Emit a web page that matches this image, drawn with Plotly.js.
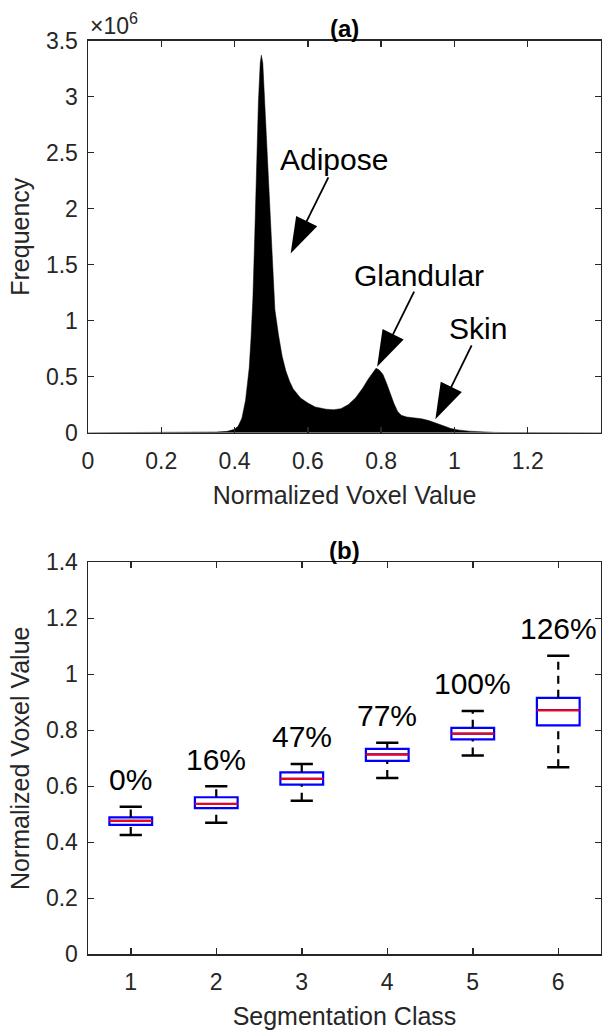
<!DOCTYPE html>
<html><head><meta charset="utf-8">
<script src="https://cdn.plot.ly/plotly-3.0.1.min.js"></script>
<style>html,body{margin:0;padding:0;background:#fff}</style>
</head><body><div id="chart" style="width:602px;height:1032px"></div>
<script>
// ---- (a) histogram of normalized voxel values ----
const histX = [0, 0.30, 0.35, 0.38, 0.40, 0.41, 0.42, 0.43, 0.44, 0.445, 0.45, 0.455, 0.46, 0.465, 0.47, 0.473, 0.477, 0.48, 0.485, 0.49, 0.495, 0.50, 0.505, 0.51, 0.52, 0.53, 0.54, 0.55, 0.56, 0.58, 0.60, 0.62, 0.65, 0.67, 0.69, 0.71, 0.73, 0.75, 0.765, 0.775, 0.786, 0.795, 0.805, 0.815, 0.825, 0.835, 0.845, 0.855, 0.87, 0.89, 0.91, 0.93, 0.95, 0.97, 0.99, 1.01, 1.04, 1.07, 1.11, 1.15, 1.2, 1.4];
const histFreqMillions = [0, 0.002, 0.006, 0.012, 0.03, 0.06, 0.13, 0.29, 0.58, 0.85, 1.2, 1.75, 2.35, 2.95, 3.3, 3.37, 3.3, 3.1, 2.7, 2.4, 2.05, 1.72, 1.42, 1.1, 0.87, 0.68, 0.55, 0.46, 0.39, 0.31, 0.265, 0.23, 0.21, 0.205, 0.215, 0.25, 0.31, 0.40, 0.48, 0.53, 0.575, 0.56, 0.52, 0.44, 0.34, 0.26, 0.19, 0.155, 0.14, 0.133, 0.125, 0.108, 0.088, 0.062, 0.038, 0.025, 0.014, 0.008, 0.003, 0.001, 0, 0];
const peakLabels = ['Adipose', 'Glandular', 'Skin'];

// ---- (b) box plot per segmentation class ----
const classes = [1, 2, 3, 4, 5, 6];
const lowerWhisker = [0.426, 0.470, 0.548, 0.630, 0.710, 0.668];
const q1 = [0.462, 0.522, 0.606, 0.691, 0.768, 0.818];
const medians = [0.477, 0.537, 0.627, 0.714, 0.788, 0.872];
const q3 = [0.489, 0.561, 0.650, 0.734, 0.809, 0.916];
const upperWhisker = [0.527, 0.600, 0.680, 0.756, 0.869, 1.066];
const pctLabels = ['0%', '16%', '47%', '77%', '100%', '126%'];

const FONT = 'Liberation Sans, Arial, Helvetica, sans-serif';
const AXC = '#262626';
const BOXW = 0.5, CAPW = 0.13;

const whiskX = [], whiskY = [], capX = [], capY = [], medX = [], medY = [];
classes.forEach((c, i) => {
  whiskX.push(c, c, null, c, c, null);
  whiskY.push(q3[i], upperWhisker[i], null, lowerWhisker[i], q1[i], null);
  capX.push(c - CAPW, c + CAPW, null, c - CAPW, c + CAPW, null);
  capY.push(upperWhisker[i], upperWhisker[i], null, lowerWhisker[i], lowerWhisker[i], null);
  medX.push(c - BOXW / 2, c + BOXW / 2, null);
  medY.push(medians[i], medians[i], null);
});

// annotation arrows (tail -> head) for panel (a)
const arrowTails = [[0.656, 2.28], [0.890, 1.26], [1.047, 0.78]];
const arrowHeads = [[0.553, 1.60], [0.789, 0.59], [0.948, 0.12]];
const arX = [], arY = [], arSize = [];
arrowTails.forEach((t, i) => {
  arX.push(t[0], arrowHeads[i][0], null);
  arY.push(t[1], arrowHeads[i][1], null);
  arSize.push(0, 38, 0);
});

const traces = [
  {type: 'scatter', x: histX, y: histFreqMillions, mode: 'lines', fill: 'tozeroy',
   fillcolor: '#000000', line: {color: '#000000', width: 0.5}, xaxis: 'x', yaxis: 'y', hoverinfo: 'x+y'},
  {type: 'scatter', x: arX, y: arY, mode: 'lines+markers', connectgaps: false,
   line: {color: '#000000', width: 1.8},
   marker: {symbol: 'arrow', size: arSize, angleref: 'previous', color: '#000000', opacity: 1, line: {width: 0}},
   xaxis: 'x', yaxis: 'y', hoverinfo: 'skip'},
  {type: 'box', x: classes, q1: q1, median: medians, q3: q3, lowerfence: q1, upperfence: q3,
   width: BOXW, whiskerwidth: 0, boxpoints: false, fillcolor: 'rgba(0,0,0,0)',
   line: {color: '#0000FF', width: 2.2}, xaxis: 'x2', yaxis: 'y2'},
  {type: 'scatter', x: whiskX, y: whiskY, mode: 'lines', line: {color: '#000000', width: 2.2, dash: '8px,6px'},
   xaxis: 'x2', yaxis: 'y2', hoverinfo: 'skip'},
  {type: 'scatter', x: capX, y: capY, mode: 'lines', line: {color: '#000000', width: 2.5},
   xaxis: 'x2', yaxis: 'y2', hoverinfo: 'skip'},
  {type: 'scatter', x: medX, y: medY, mode: 'lines', line: {color: '#FF0000', width: 2},
   xaxis: 'x2', yaxis: 'y2', hoverinfo: 'skip'}
];

const ax = {
  showline: true, linecolor: AXC, linewidth: 1.5, mirror: 'ticks',
  ticks: 'inside', ticklen: 6, tickwidth: 1.5, tickcolor: AXC,
  showgrid: false, zeroline: false,
  tickfont: {family: FONT, size: 23, color: AXC}
};
const titleFont = {family: FONT, size: 25, color: AXC};

const annotations = [
  {xref: 'paper', yref: 'paper', x: 0.5, y: 1 - 28 / 1032, yanchor: 'middle', showarrow: false,
   text: '<b>(a)</b>', font: {family: FONT, size: 24, color: '#000'}},
  {xref: 'paper', yref: 'paper', x: 0.5, y: 1 - 550 / 1032, yanchor: 'middle', showarrow: false,
   text: '<b>(b)</b>', font: {family: FONT, size: 24, color: '#000'}},
  {xref: 'paper', yref: 'paper', x: 0, xanchor: 'left', y: 0.9606, yanchor: 'bottom', showarrow: false,
   text: '×10<sup>6</sup>', font: {family: FONT, size: 23, color: AXC}}
];
const labelPos = [[0.670, 2.44], [0.902, 1.40], [1.065, 0.93]];
peakLabels.forEach((t, i) => annotations.push({xref: 'x', yref: 'y', x: labelPos[i][0], y: labelPos[i][1],
  showarrow: false, text: t, font: {family: FONT, size: 30, color: '#000'}}));
classes.forEach((c, i) => annotations.push({xref: 'x2', yref: 'y2', x: c, y: upperWhisker[i],
  yanchor: 'middle', yshift: 27, showarrow: false, text: pctLabels[i], font: {family: FONT, size: 30, color: '#000'}}));

const layout = {
  width: 602, height: 1032,
  margin: {l: 88, r: 1, t: 0, b: 0},
  paper_bgcolor: '#fff', plot_bgcolor: '#fff', showlegend: false,
  xaxis: Object.assign({}, ax, {domain: [0, 1], range: [0, 1.4], tickvals: [0, 0.2, 0.4, 0.6, 0.8, 1, 1.2],
    anchor: 'y', ticklabelstandoff: 7, title: {text: 'Normalized Voxel Value', font: titleFont, standoff: 13}}),
  yaxis: Object.assign({}, ax, {domain: [0.5807, 0.9606], range: [0, 3.5], dtick: 0.5, tick0: 0,
    anchor: 'x', ticklabelstandoff: 4, title: {text: 'Frequency', font: titleFont, standoff: 9}}),
  xaxis2: Object.assign({}, ax, {domain: [0, 1], range: [0.5, 6.5], tickvals: classes,
    anchor: 'y2', ticklabelstandoff: 7, title: {text: 'Segmentation Class', font: titleFont, standoff: 13}}),
  yaxis2: Object.assign({}, ax, {domain: [0.0753, 0.4551], range: [0, 1.4], dtick: 0.2, tick0: 0,
    anchor: 'x2', ticklabelstandoff: 4, title: {text: 'Normalized Voxel Value', font: titleFont, standoff: 9}}),
  annotations: annotations
};

Plotly.newPlot('chart', traces, layout, {displayModeBar: false, staticPlot: true});
</script></body></html>
